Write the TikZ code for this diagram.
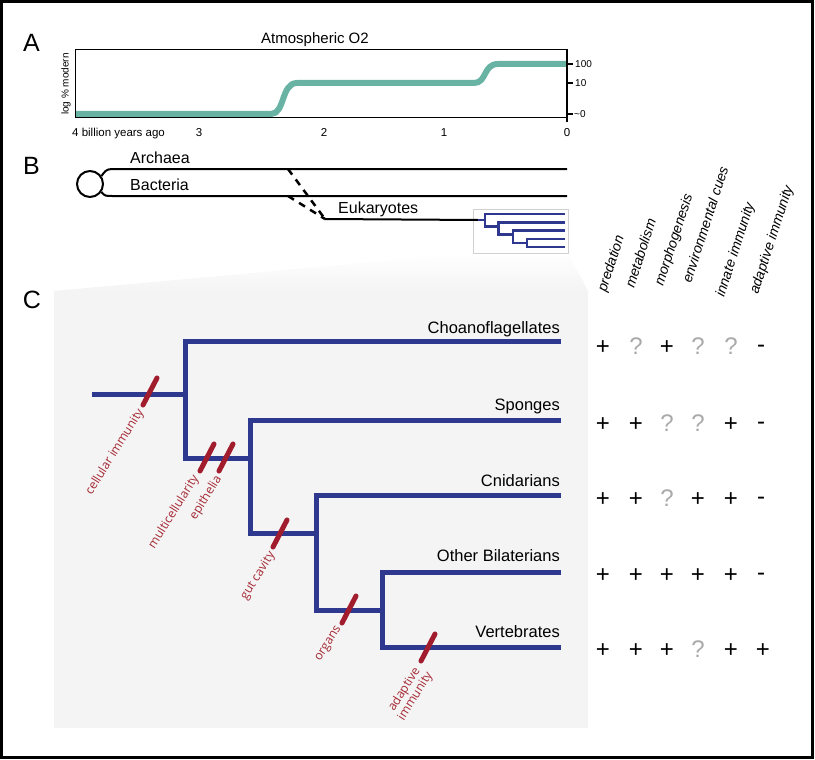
\documentclass[tikz,border=0pt]{standalone}
\usepackage{fontspec}
\setmainfont{Liberation Sans}
\newfontfamily\osans{Open Sans}
\definecolor{treeblue}{RGB}{46,56,142}
\definecolor{markred}{RGB}{161,29,46}
\definecolor{labred}{RGB}{165,40,52}
\definecolor{oxteal}{RGB}{104,179,164}
\definecolor{panelgray}{RGB}{244,244,244}
\definecolor{qgray}{RGB}{170,170,170}
\begin{document}
\begin{tikzpicture}[x=1pt,y=-1pt,
  panel/.style={font=\fontsize{25}{25}\selectfont, inner sep=0, anchor=base},
  tiplab/.style={font=\fontsize{16.5}{18}\selectfont, anchor=base east, inner sep=0},
  blab/.style={font=\fontsize{16}{18}\selectfont, anchor=base west, inner sep=0},
  axlab/.style={font=\fontsize{11.5}{12}\selectfont, anchor=base, inner sep=0},
  ylab/.style={font=\fontsize{10}{10}\selectfont, anchor=west, inner sep=0},
  hdr/.style={font=\itshape\fontsize{14}{15}\selectfont, rotate=72, anchor=base west, inner sep=0},
  sym/.style={font=\fontsize{24}{24}\selectfont, anchor=base, inner sep=0},
  qsym/.style={sym, text=qgray},
  redlab/.style={font=\osans\fontsize{12.2}{13}\selectfont, text=labred, rotate=58, inner sep=0, align=center},
  branch/.style={draw=treeblue, line width=5pt, line join=miter},
  mini/.style={draw=treeblue, line width=2.5pt, line join=miter},
  event/.style={draw=markred, line width=5pt, line cap=round},
  bline/.style={line width=2pt}
]
\useasboundingbox (0,0) rectangle (815,760);
\fill[white] (0,0) rectangle (815,760);

% ---------- Panel A ----------
\node[panel] (labA) at (31.5,52) {A};
\node[anchor=base, font=\fontsize{15}{15}\selectfont, inner sep=0] (title) at (315,44) {Atmospheric O2};
\draw[oxteal, line width=6pt] (75,114) -- (271,114) .. controls (285,114) and (281,83) .. (297,83)
  -- (474,83) .. controls (487,83) and (483,64) .. (498,64) -- (567,64);
\draw[line width=1pt] (75,50) rectangle (567,118);
\draw[line width=2pt] (567,50) -- (567,122);
\draw[line width=1.5pt] (567,64) -- (573,64) (567,83) -- (573,83) (567,114) -- (573,114);
\node[ylab] (y100) at (575,64) {100};
\node[ylab] (y10) at (575,83) {10};
\node[ylab] (y0) at (574,114) {\textasciitilde0};
\node[rotate=90, font=\fontsize{10}{10}\selectfont, inner sep=0] (ylabel) at (66,84) {log \% modern};
\node[axlab, anchor=base west] (x4) at (72,136) {4 billion years ago};
\node[axlab] (x3) at (199,136) {3};
\node[axlab] (x2) at (324,136) {2};
\node[axlab] (x1) at (444,136) {1};
\node[axlab] (x0) at (567,136) {0};

% ---------- Panel B ----------
\node[panel] (labB) at (31.5,175) {B};
\node[circle, draw, line width=2pt, minimum size=26pt, inner sep=0] (root) at (90,184) {};
\coordinate (archEnd) at (567,169);
\coordinate (bactEnd) at (567,196);
\coordinate (euk) at (325,219);
\coordinate (eukEnd) at (478,220);
\draw[bline] (root.35) .. controls +(3,-4) and +(-6,0) .. (112,169) -- (archEnd);
\draw[bline] (root.-35) .. controls +(3,4) and +(-6,0) .. (112,196) -- (bactEnd);
\node[blab] (arch) at (130,163) {Archaea};
\node[blab] (bact) at (130,190) {Bacteria};
\draw[line width=2.5pt, dash pattern=on 7pt off 6pt] (288,169) -- (euk);
\draw[line width=2.5pt, dash pattern=on 7pt off 6pt] (288,196) -- (euk);
\node[blab] (eukl) at (338,213) {Eukaryotes};

% zoom wedge and panel C background
\shade[top color=white, bottom color=panelgray] (54,291) -- (473,253) -- (568,253) -- (588,291) -- cycle;
\fill[panelgray] (54,291) rectangle (588,728);
\draw[draw=black!18, fill=white, line width=0.8pt] (473,209) rectangle (568,253);
\draw[bline] (euk) -- (eukEnd);
% mini tree
\draw[mini] (eukEnd) -- (485,220);
\draw[mini] (565,214) -- (485,214) -- (485,226.6) -- (498.7,226.6);
\draw[mini] (565,222.5) -- (498.7,222.5) -- (498.7,234.7) -- (513,234.7);
\draw[mini] (565,230.6) -- (513,230.6) -- (513,243) -- (527,243);
\draw[mini] (565,239) -- (527,239) -- (527,247) -- (565,247);

% ---------- Panel C ----------
\node[panel] (labC) at (32,308) {C};
\draw[branch] (92,394) -- (185,394);
\draw[branch] (561,341) -- (185,341) -- (185,458) -- (250,458);
\draw[branch] (561,420) -- (250,420) -- (250,533) -- (316,533);
\draw[branch] (561,495) -- (316,495) -- (316,610) -- (382,610);
\draw[branch] (561,572) -- (382,572) -- (382,647) -- (561,647);

\node[tiplab] (choano) at (560,333) {Choanoflagellates};
\node[tiplab] (sponge) at (560,410) {Sponges};
\node[tiplab] (cnid) at (560,486) {Cnidarians};
\node[tiplab] (bilat) at (560,561) {Other Bilaterians};
\node[tiplab] (vert) at (560,637) {Vertebrates};

% events
\draw[event] (143,405) -- (157,378);
\draw[event] (200,471) -- (214,444);
\draw[event] (219,471) -- (233,444);
\draw[event] (273,547) -- (287,520);
\draw[event] (342,623) -- (356,596);
\draw[event] (421,661) -- (435,634);
\node[redlab] (ev1) at (115,452) {cellular immunity};
\node[redlab] (ev2) at (174,512) {multicellularity};
\node[redlab] (ev3) at (206,498) {epithelia};
\node[redlab] (ev4) at (258,576) {gut cavity};
\node[redlab] (ev5) at (329,644) {organs};
\node[redlab] (ev6) at (410,693) {adaptive\\immunity};

% column headers
\node[hdr] (h1) at (606,293) {predation};
\node[hdr] (h2) at (634,289) {metabolism};
\node[hdr] (h3) at (663,287) {morphogenesis};
\node[hdr] (h4) at (691,284) {environmental cues};
\node[hdr] (h5) at (724,298) {innate immunity};
\node[hdr] (h6) at (758,295) {adaptive immunity};

% matrix
% row 1
\node[sym] (r1c1) at (603,354) {+};
\node[qsym] (r1c2) at (636,354) {?};
\node[sym] (r1c3) at (667,354) {+};
\node[qsym] (r1c4) at (698,354) {?};
\node[qsym] (r1c5) at (731,354) {?};
\node[sym] (r1c6) at (761,352) {-};
% row 2
\node[sym] (r2c1) at (603,431) {+};
\node[sym] (r2c2) at (636,431) {+};
\node[qsym] (r2c3) at (667,431) {?};
\node[qsym] (r2c4) at (698,431) {?};
\node[sym] (r2c5) at (731,431) {+};
\node[sym] (r2c6) at (761,429) {-};
% row 3
\node[sym] (r3c1) at (603,506) {+};
\node[sym] (r3c2) at (636,506) {+};
\node[qsym] (r3c3) at (667,506) {?};
\node[sym] (r3c4) at (698,506) {+};
\node[sym] (r3c5) at (731,506) {+};
\node[sym] (r3c6) at (761,504) {-};
% row 4
\node[sym] (r4c1) at (603,582) {+};
\node[sym] (r4c2) at (636,582) {+};
\node[sym] (r4c3) at (667,582) {+};
\node[sym] (r4c4) at (698,582) {+};
\node[sym] (r4c5) at (731,582) {+};
\node[sym] (r4c6) at (761,580) {-};
% row 5
\node[sym] (r5c1) at (603,657) {+};
\node[sym] (r5c2) at (636,657) {+};
\node[sym] (r5c3) at (667,657) {+};
\node[qsym] (r5c4) at (698,657) {?};
\node[sym] (r5c5) at (731,657) {+};
\node[sym] (r5c6) at (763,657) {+};

% outer frame
\draw[line width=3pt] (1.5,1.5) rectangle (812.5,757);
\end{tikzpicture}
\end{document}
